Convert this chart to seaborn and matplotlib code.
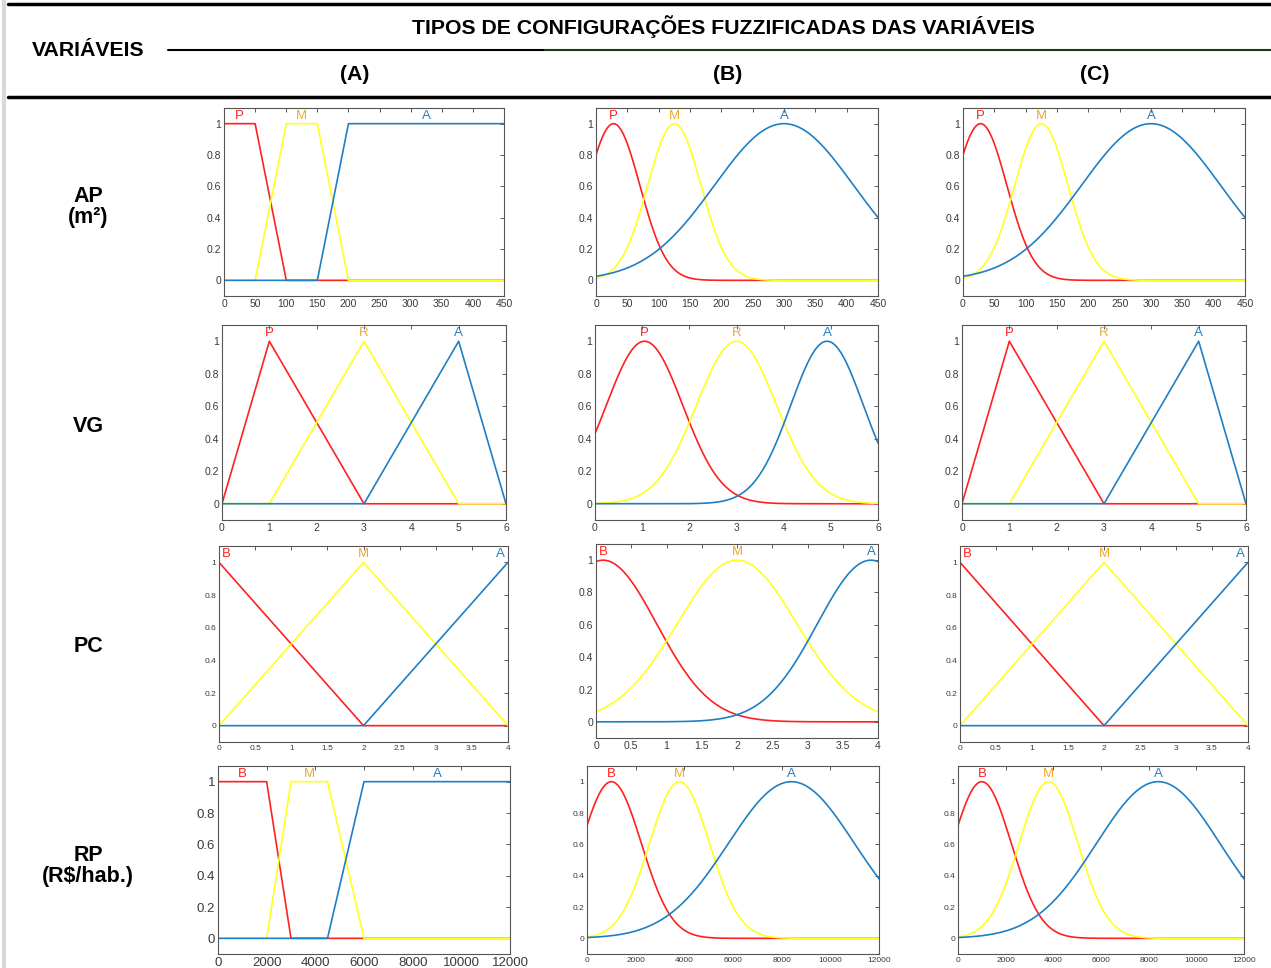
import numpy as np
import pandas as pd
import matplotlib.pyplot as plt
from matplotlib.lines import Line2D
import seaborn as sns

W, H = 1271, 968

# membership function parameters
AP_RANGE = [0, 450]
AP_TERMS = ["P", "M", "A"]
AP_TRAP = [[0, 0, 50, 100], [50, 100, 150, 200], [150, 200, 450, 450]]
AP_GAUSS_C = [28, 125, 300]
AP_GAUSS_S = [42, 42.5, 111]
AP_XTICKS = [0, 50, 100, 150, 200, 250, 300, 350, 400, 450]

VG_RANGE = [0, 6]
VG_TERMS = ["P", "R", "A"]
VG_TRI = [[0, 1, 3], [1, 3, 5], [3, 5, 6]]
VG_GAUSS_C = [1.05, 3.0, 4.92]
VG_GAUSS_S = [0.81, 0.85, 0.77]
VG_XTICKS = [0, 1, 2, 3, 4, 5, 6]

PC_RANGE = [0, 4]
PC_TERMS = ["B", "M", "A"]
PC_TRI = [[0, 0, 2], [0, 2, 4], [2, 4, 4]]
PC_GAUSS_C = [0.1, 2.0, 3.9]
PC_GAUSS_S = [0.76, 0.85, 0.76]
PC_XTICKS = [0, 0.5, 1, 1.5, 2, 2.5, 3, 3.5, 4]

RP_RANGE = [0, 12000]
RP_TERMS = ["B", "M", "A"]
RP_TRAP = [[0, 0, 2000, 3000], [2000, 3000, 4500, 6000], [4500, 6000, 12000, 12000]]
RP_GAUSS_C = [1000, 3800, 8400]
RP_GAUSS_S = [1234, 1232, 2588]
RP_XTICKS = [0, 2000, 4000, 6000, 8000, 10000, 12000]

YTICKS = [0, 0.2, 0.4, 0.6, 0.8, 1]
COLUMN_TITLES = ["(A)", "(B)", "(C)"]
ROW_TITLES = ["AP\n(m²)", "VG", "PC", "RP\n(R$/hab.)"]

LINE_COLORS = ["#ff2020", "#ffff20", "#1f7fc4"]
TEXT_COLORS = ["#ff2020", "#f0a830", "#1f7fc4"]


def trapmf(x, a, b, c, d):
    up = np.ones_like(x) if b == a else np.clip((x - a) / (b - a), 0, 1)
    down = np.ones_like(x) if d == c else np.clip((d - x) / (d - c), 0, 1)
    return np.minimum(up, down)


def trap_set(params, rng):
    x = np.linspace(rng[0], rng[1], 1201)
    return x, [trapmf(x, *p) for p in params]


def tri_set(params, rng):
    return trap_set([[a, b, b, c] for a, b, c in params], rng)


def gauss_set(centers, sigmas, rng):
    x = np.linspace(rng[0], rng[1], 601)
    return x, [np.exp(-(x - c) ** 2 / (2 * s ** 2)) for c, s in zip(centers, sigmas)]


sns.set_theme(style="white")
plt.rcParams["font.family"] = ["Liberation Sans", "DejaVu Sans"]
plt.rcParams["text.color"] = "black"

fig = plt.figure(figsize=(W / 100, H / 100), dpi=100)

rows = [
    dict(terms=AP_TERMS, rng=AP_RANGE, xt=AP_XTICKS,
         sets=[trap_set(AP_TRAP, AP_RANGE),
               gauss_set(AP_GAUSS_C, AP_GAUSS_S, AP_RANGE),
               gauss_set(AP_GAUSS_C, AP_GAUSS_S, AP_RANGE)],
         peaks=[[25, 125, 325], AP_GAUSS_C, AP_GAUSS_C]),
    dict(terms=VG_TERMS, rng=VG_RANGE, xt=VG_XTICKS,
         sets=[tri_set(VG_TRI, VG_RANGE),
               gauss_set(VG_GAUSS_C, VG_GAUSS_S, VG_RANGE),
               tri_set(VG_TRI, VG_RANGE)],
         peaks=[[t[1] for t in VG_TRI], VG_GAUSS_C, [t[1] for t in VG_TRI]]),
    dict(terms=PC_TERMS, rng=PC_RANGE, xt=PC_XTICKS,
         sets=[tri_set(PC_TRI, PC_RANGE),
               gauss_set(PC_GAUSS_C, PC_GAUSS_S, PC_RANGE),
               tri_set(PC_TRI, PC_RANGE)],
         peaks=[[0.1, 2, 3.9], PC_GAUSS_C, [0.1, 2, 3.9]]),
    dict(terms=RP_TERMS, rng=RP_RANGE, xt=RP_XTICKS,
         sets=[trap_set(RP_TRAP, RP_RANGE),
               gauss_set(RP_GAUSS_C, RP_GAUSS_S, RP_RANGE),
               gauss_set(RP_GAUSS_C, RP_GAUSS_S, RP_RANGE)],
         peaks=[[1000, 3750, 9000], RP_GAUSS_C, RP_GAUSS_C]),
]

# axes boxes in pixels: (left, right, top, bottom)
boxes = [
    [(224, 504, 108, 296), (596, 878, 108, 296), (963, 1245, 108, 296)],
    [(222, 506, 325, 520), (595, 878, 325, 520), (962, 1246, 325, 520)],
    [(219, 508, 546, 742), (596, 878, 544, 738), (960, 1248, 546, 742)],
    [(218, 510, 766, 954), (587, 879, 766, 954), (958, 1244, 766, 954)],
]
tick_sizes = [[7.5, 7.5, 7.5], [7.5, 7.5, 7.5], [6, 7.5, 6], [9.5, 6, 6]]

for r, row in enumerate(rows):
    for c in range(3):
        l, rr, t, b = boxes[r][c]
        ax = fig.add_axes([l / W, 1 - b / H, (rr - l) / W, (b - t) / H])
        x, mus = row["sets"][c]
        df = pd.concat([pd.DataFrame({"x": x, "mu": m, "term": row["terms"][i]})
                        for i, m in enumerate(mus)])
        sns.lineplot(data=df, x="x", y="mu", hue="term", hue_order=row["terms"],
                     palette=dict(zip(row["terms"], LINE_COLORS)), estimator=None,
                     sort=False, linewidth=1.2, legend=False, ax=ax)
        for i, term in enumerate(row["terms"]):
            ax.text(row["peaks"][c][i], 1.05, term, color=TEXT_COLORS[i],
                    ha="center", va="center", fontsize=9.5)
        ax.set_xlim(row["rng"])
        ax.set_ylim(-0.1, 1.1)
        ax.set_xticks(row["xt"])
        ax.set_xticklabels([f"{v:g}" for v in row["xt"]])
        ax.set_yticks(YTICKS)
        ax.set_yticklabels([f"{v:g}" for v in YTICKS])
        ax.set_xlabel("")
        ax.set_ylabel("")
        fs = tick_sizes[r][c]
        ax.tick_params(direction="in", length=3, width=0.6, top=True, right=True,
                       labelsize=fs, labelcolor="#3a3a3a", color="#404040", pad=2)
        for s in ax.spines.values():
            s.set_color("#555555")
            s.set_linewidth(0.8)

# header / table lines
def hline(x0, x1, y, color="black", lw=2.2):
    fig.add_artist(Line2D([x0 / W, x1 / W], [1 - y / H, 1 - y / H],
                          transform=fig.transFigure, color=color, lw=lw))

hline(8, W, 3.5, lw=2.5)
hline(8, W, 97, lw=2.5)
hline(168, 545, 50, lw=1.5)
hline(545, W, 50, color="#1a3a10", lw=1.5)
fig.add_artist(Line2D([3.5 / W, 3.5 / W], [0, 1], transform=fig.transFigure,
                      color="#d8d8d8", lw=3))

fig.text(723 / W, 1 - 27 / H, "TIPOS DE CONFIGURAÇÕES FUZZIFICADAS DAS VARIÁVEIS",
         ha="center", va="center", fontsize=15.3, fontweight="bold")
fig.text(88 / W, 1 - 50 / H, "VARIÁVEIS", ha="center", va="center",
         fontsize=15.3, fontweight="bold")
for x, label in zip([355, 728, 1095], COLUMN_TITLES):
    fig.text(x / W, 1 - 74 / H, label, ha="center", va="center",
             fontsize=15.3, fontweight="bold")
for y, label in zip([207, 427, 646, 866], ROW_TITLES):
    fig.text(88 / W, 1 - y / H, label, ha="center", va="center",
             fontsize=15.5, fontweight="bold", linespacing=1.0)

fig.savefig("out.png", dpi=100)
